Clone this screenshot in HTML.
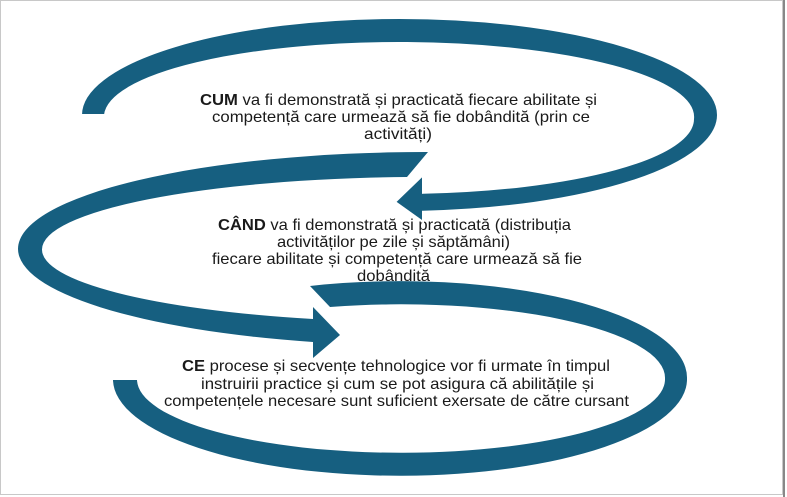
<!DOCTYPE html>
<html><head><meta charset="utf-8"><style>
html,body{margin:0;padding:0;background:#fff;}
svg{display:block;}
text{font-family:"Liberation Sans",Arial,sans-serif;font-size:16px;fill:#1a1a1a;}
</style></head><body>
<svg width="787" height="497" viewBox="0 0 787 497" xmlns="http://www.w3.org/2000/svg">
<rect x="0" y="0" width="787" height="497" fill="#fff"/>
<rect x="0.5" y="0.5" width="782" height="494" fill="none" stroke="#c8c8c8" stroke-width="1"/>
<line x1="784" y1="0" x2="784" y2="497" stroke="#888" stroke-width="2"/>
<defs><clipPath id="c"><rect x="0" y="0" width="787" height="281"/></clipPath></defs>

<g>
<text x="200" y="105" textLength="397" lengthAdjust="spacingAndGlyphs"><tspan font-weight="bold">CUM</tspan> va fi demonstrată și practicată fiecare abilitate și</text>
<text x="212" y="122" textLength="378" lengthAdjust="spacingAndGlyphs">competență care urmează să fie dobândită (prin ce</text>
<text x="364" y="139" textLength="68" lengthAdjust="spacingAndGlyphs">activități)</text>

<text x="218" y="230" textLength="353" lengthAdjust="spacingAndGlyphs"><tspan font-weight="bold">CÂND</tspan> va fi demonstrată și practicată (distribuția</text>
<text x="277" y="247" textLength="233" lengthAdjust="spacingAndGlyphs">activităților pe zile și săptămâni)</text>
<text x="212" y="264" textLength="370" lengthAdjust="spacingAndGlyphs">fiecare abilitate și competență care urmează să fie</text>
<text x="357" y="281" textLength="73" lengthAdjust="spacingAndGlyphs" clip-path="url(#c)">dobândită</text>

<text x="182" y="371" textLength="428" lengthAdjust="spacingAndGlyphs"><tspan font-weight="bold">CE</tspan> procese și secvențe tehnologice vor fi urmate în timpul</text>
<text x="201" y="389" textLength="393" lengthAdjust="spacingAndGlyphs">instruirii practice și cum se pot asigura că abilitățile și</text>
<text x="164" y="406" textLength="465" lengthAdjust="spacingAndGlyphs">competențele necesare sunt suficient exersate de către cursant</text>
</g>

<g fill="#165f80">
<!-- arc 3 -->
<path d="M310,286 A287,96.5 0 0 1 687,378.5 A287,96.5 0 0 1 113,380 L137,380 A264,73.5 0 0 0 665,378.5 A264,73.5 0 0 0 330,307 Z"/>
<!-- arc 2 -->
<path d="M428,152 A408,97 0 0 0 18,249 A408,97 0 0 0 313,342 L313,358 L340,335 L313,307 L313,319 A383,72.5 0 0 1 42,249.5 A383,72.5 0 0 1 407,177 Z"/>
<!-- arc 1 -->
<path stroke="#fff" stroke-width="2" d="M81,115 A318.5,97 0 0 1 718,115 A318.5,97 0 0 1 423,211.7 L423,222 L395,202 L423,175 L423,192.8 A294,74 0 0 0 693,119 A294,74 0 0 0 105,115 Z"/>
</g>
</svg>
</body></html>
